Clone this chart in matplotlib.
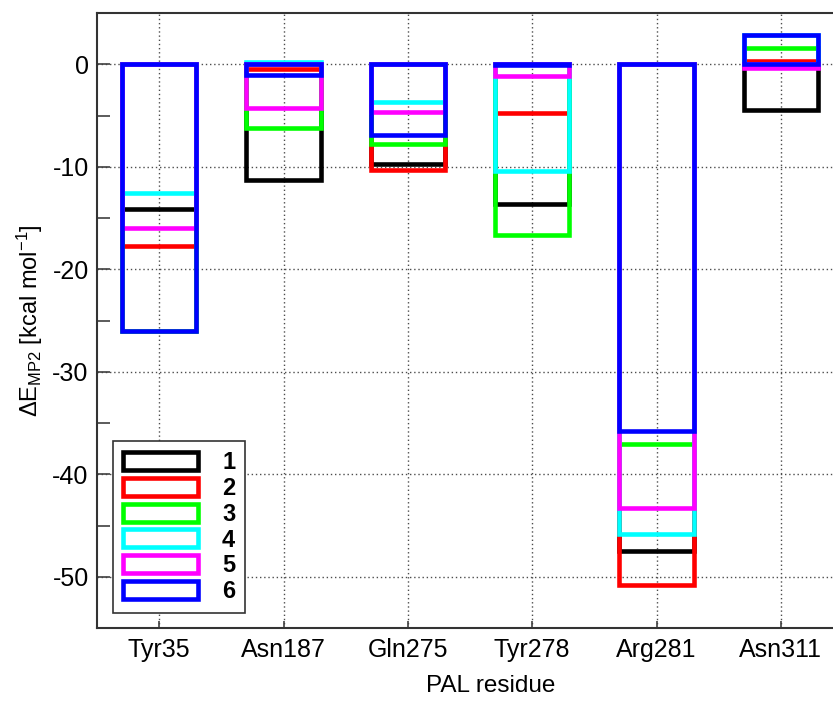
import matplotlib.pyplot as plt
from matplotlib.patches import Patch
from matplotlib.ticker import MultipleLocator

plt.rcParams['font.family'] = ['Liberation Sans', 'DejaVu Sans']
plt.rcParams['mathtext.default'] = 'regular'
plt.rcParams['axes.unicode_minus'] = False

residues = ['Tyr35', 'Asn187', 'Gln275', 'Tyr278', 'Arg281', 'Asn311']

# interaction energies (kcal/mol) for models 1-6
e1 = [-14.1, -11.3, -9.7, -13.65, -47.5, -4.5]
e2 = [-17.75, -0.5, -10.3, -4.8, -50.8, 0.35]
e3 = [-26.0, -6.2, -7.8, -16.65, -37.0, 1.6]
e4 = [-12.6, 0.2, -3.7, -10.4, -45.8, 2.85]
e5 = [-15.95, -4.3, -4.7, -1.1, -43.3, -0.4]
e6 = [-26.0, -1.0, -6.95, -0.1, -35.8, 2.85]

series = [e1, e2, e3, e4, e5, e6]
names = ['1', '2', '3', '4', '5', '6']
colors = ['black', '#ff0000', '#00ff00', '#00ffff', '#ff00ff', '#0000ff']

fig = plt.figure(figsize=(8.33, 7.02), dpi=100)
# right edge of the axes runs past the figure, as in the cropped original
ax = fig.add_axes([97 / 833, 1 - 628 / 702, 746 / 833, 615 / 702])

x = list(range(1, len(residues) + 1))
for i, (vals, c) in enumerate(zip(series, colors)):
    ax.bar(x, vals, width=0.6, facecolor='none', edgecolor=c,
           linewidth=3.3, zorder=3 + i)

ax.set_xlim(0.5, 6.5)
ax.set_ylim(-55, 5)
ax.set_xticks(x)
ax.set_xticklabels(residues)
ax.yaxis.set_major_locator(MultipleLocator(10))
ax.yaxis.set_minor_locator(MultipleLocator(5))

ax.grid(True, which='major', linestyle=(0, (1, 2)), linewidth=1.0, color='0.3')
ax.set_axisbelow(True)
ax.tick_params(axis='both', which='both', direction='in', labelsize=18,
               width=1.2, color='0.25')
ax.tick_params(axis='y', which='both', length=9, pad=6)
ax.tick_params(axis='x', length=5, pad=7)
for s in ax.spines.values():
    s.set_linewidth(1.5)
    s.set_color('0.2')

ax.set_xlabel('PAL residue', fontsize=17.5)
ax.xaxis.set_label_coords(0.528, -0.076)
ax.set_ylabel(r'$\Delta$E$_{MP2}$ [kcal mol$^{-1}$]', fontsize=17)
ax.yaxis.set_label_coords(-0.07, 0.5)

handles = [Patch(facecolor='white', edgecolor=c, linewidth=3.3) for c in colors]
leg = ax.legend(handles, names, loc='lower left', bbox_to_anchor=(0.0214, 0.024),
                borderaxespad=0, fancybox=False, framealpha=1,
                prop={'weight': 'bold', 'size': 17},
                handlelength=3.2, handleheight=0.8, handletextpad=1.0,
                labelspacing=0.12, borderpad=0.42)
leg.get_frame().set_edgecolor('0.2')
leg.get_frame().set_linewidth(1.2)
leg.set_zorder(20)

fig.savefig('out.png', dpi=100)
